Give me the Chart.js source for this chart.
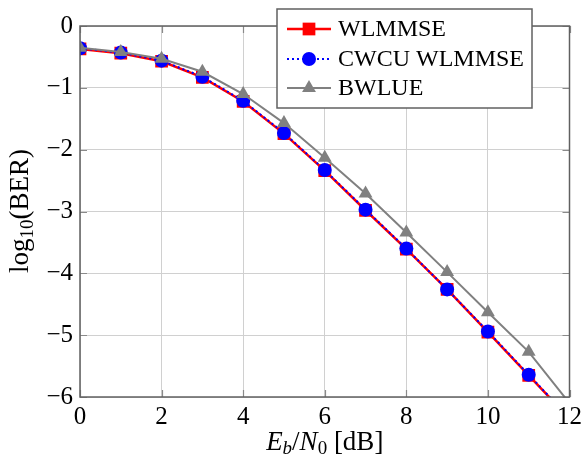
<!DOCTYPE html>
<html>
<head>
<meta charset="utf-8">
<script src="https://cdn.jsdelivr.net/npm/chart.js@4"></script>
<style>
  html, body { margin: 0; padding: 0; background: #fff; }
  #wrap { width: 587px; height: 458px; }
</style>
</head>
<body>
<div id="wrap"><canvas id="chart"></canvas></div>
<script>
// Eb/N0 in dB
const snr = [0, 1, 2, 3, 4, 5, 6, 7, 8, 9, 10, 11, 12];

// log10(BER) per estimator
const wlmmse = [-0.37, -0.44, -0.57, -0.83, -1.22, -1.74, -2.34, -2.98, -3.61, -4.26, -4.95, -5.65, -6.35];
const cwcu = [-0.36, -0.43, -0.56, -0.82, -1.21, -1.73, -2.33, -2.97, -3.60, -4.26, -4.94, -5.64, -6.34];
const bwlue = [-0.35, -0.42, -0.53, -0.74, -1.10, -1.57, -2.13, -2.71, -3.34, -3.98, -4.63, -5.27, -6.1];

const xTicks = [0, 2, 4, 6, 8, 10, 12];
const yTicks = [-6, -5, -4, -3, -2, -1, 0];

const serif = "'Liberation Serif', 'Times New Roman', Times, serif";
const hideLast = snr.map((v, i) => i === snr.length - 1);

function toXY(ys) {
    return snr.map((x, i) => ({x: x, y: ys[i]}));
}

// axis titles with sub scripts, inward ticks, frame and legend box
const decor = {
    id: 'decor',
    afterDraw(chart) {
        const ctx = chart.ctx;
        const a = chart.chartArea;
        const xs = chart.scales.x, ys = chart.scales.y;
        ctx.save();

        // inward ticks
        ctx.strokeStyle = '#8a8a8a';
        ctx.lineWidth = 1.2;
        ctx.beginPath();
        xTicks.forEach(t => {
            const px = Math.round(xs.getPixelForValue(t)) + 0.5;
            ctx.moveTo(px, a.bottom); ctx.lineTo(px, a.bottom - 7);
            ctx.moveTo(px, a.top); ctx.lineTo(px, a.top + 7);
        });
        yTicks.forEach(t => {
            const py = Math.round(ys.getPixelForValue(t)) + 0.5;
            ctx.moveTo(a.left, py); ctx.lineTo(a.left + 7, py);
            ctx.moveTo(a.right, py); ctx.lineTo(a.right - 7, py);
        });
        ctx.stroke();

        // frame
        ctx.strokeStyle = '#606060';
        ctx.lineWidth = 1.5;
        ctx.strokeRect(a.left, a.top, a.right - a.left, a.bottom - a.top);

        // x title: E_b/N_0 [dB]
        const xParts = [
            {t: 'E', f: 'italic 27px ' + serif, dy: 0},
            {t: 'b', f: 'italic 19px ' + serif, dy: 4},
            {t: '/', f: '27px ' + serif, dy: 0},
            {t: 'N', f: 'italic 27px ' + serif, dy: 0},
            {t: '0', f: '19px ' + serif, dy: 4},
            {t: ' [dB]', f: '27px ' + serif, dy: 0}
        ];
        drawParts(ctx, xParts, (a.left + a.right) / 2, 450);

        // y title: log10(BER)
        ctx.save();
        ctx.translate(28, 211);
        ctx.rotate(-Math.PI / 2);
        const yParts = [
            {t: 'log', f: '27px ' + serif, dy: 0},
            {t: '10', f: '19px ' + serif, dy: 5},
            {t: '(BER)', f: '27px ' + serif, dy: 0}
        ];
        drawParts(ctx, yParts, 0, 0);
        ctx.restore();

        // legend
        const bx = 277, by = 9, bw = 255, bh = 99;
        ctx.fillStyle = '#fff';
        ctx.fillRect(bx, by, bw, bh);
        ctx.strokeStyle = '#606060';
        ctx.lineWidth = 1.5;
        ctx.strokeRect(bx, by, bw, bh);
        const rows = [29, 59, 88];
        chart.data.datasets.forEach((ds, i) => {
            const cy = rows[i];
            ctx.strokeStyle = ds.borderColor;
            ctx.lineWidth = ds.borderWidth;
            ctx.setLineDash(ds.borderDash || []);
            ctx.beginPath();
            ctx.moveTo(287, cy); ctx.lineTo(331, cy);
            ctx.stroke();
            ctx.setLineDash([]);
            ctx.fillStyle = ds.pointBackgroundColor;
            ctx.strokeStyle = ds.pointBorderColor;
            Chart.helpers.drawPoint(ctx, {
                pointStyle: ds.pointStyle, rotation: 0,
                radius: ds.legendRadius, borderWidth: 0
            }, 309, cy);
            ctx.fillStyle = '#000';
            ctx.font = '24px ' + serif;
            ctx.textAlign = 'left';
            ctx.textBaseline = 'middle';
            ctx.fillText(ds.label, 338, cy + 1);
        });
        ctx.restore();
    }
};

function drawParts(ctx, parts, cx, baseY) {
    let w = 0;
    parts.forEach(p => { ctx.font = p.f; w += ctx.measureText(p.t).width; });
    let x = cx - w / 2;
    ctx.fillStyle = '#000';
    ctx.textAlign = 'left';
    ctx.textBaseline = 'alphabetic';
    parts.forEach(p => {
        ctx.font = p.f;
        ctx.fillText(p.t, x, baseY + p.dy);
        x += ctx.measureText(p.t).width;
    });
}

new Chart(document.getElementById('chart'), {
    type: 'line',
    data: {
        datasets: [{
            label: 'WLMMSE',
            data: toXY(wlmmse),
            borderColor: '#ff0000',
            borderWidth: 2.5,
            pointStyle: 'rect',
            pointRadius: hideLast.map(h => h ? 0 : 9),
            legendRadius: 9,
            pointBackgroundColor: '#ff0000',
            pointBorderColor: '#ff0000',
            pointBorderWidth: 0,
            order: 2
        }, {
            label: 'CWCU WLMMSE',
            data: toXY(cwcu),
            borderColor: '#0000ff',
            borderWidth: 2,
            borderDash: [2, 3],
            pointStyle: 'circle',
            pointRadius: hideLast.map(h => h ? 0 : 7),
            legendRadius: 7,
            pointBackgroundColor: '#0000ff',
            pointBorderColor: '#0000ff',
            pointBorderWidth: 0,
            order: 1
        }, {
            label: 'BWLUE',
            data: toXY(bwlue),
            borderColor: '#808080',
            borderWidth: 2,
            pointStyle: 'triangle',
            pointRadius: hideLast.map(h => h ? 0 : 8),
            legendRadius: 8,
            pointBackgroundColor: '#808080',
            pointBorderColor: '#808080',
            pointBorderWidth: 0,
            order: 0
        }]
    },
    options: {
        responsive: true,
        maintainAspectRatio: false,
        animation: false,
        layout: {padding: {top: 26, right: 15, left: 0, bottom: 0}},
        plugins: {
            legend: {display: false},
            tooltip: {enabled: false}
        },
        elements: {line: {tension: 0}},
        scales: {
            x: {
                type: 'linear',
                min: 0,
                max: 12,
                afterBuildTicks: s => { s.ticks = xTicks.map(v => ({value: v})); },
                afterFit: s => { s.height = 61; },
                grid: {color: '#d0d0d0', lineWidth: 1, drawTicks: false},
                border: {display: false},
                ticks: {
                    color: '#000',
                    padding: 5,
                    maxRotation: 0,
                    font: {family: serif, size: 25}
                }
            },
            y: {
                type: 'linear',
                min: -6,
                max: 0,
                afterBuildTicks: s => { s.ticks = yTicks.map(v => ({value: v})); },
                afterFit: s => { s.width = 80; },
                grid: {color: '#d0d0d0', lineWidth: 1, drawTicks: false},
                border: {display: false},
                ticks: {
                    color: '#000',
                    padding: 7,
                    font: {family: serif, size: 25},
                    callback: v => (v < 0 ? '\u2212' + Math.abs(v) : String(v))
                }
            }
        }
    },
    plugins: [decor]
});
</script>
</body>
</html>
